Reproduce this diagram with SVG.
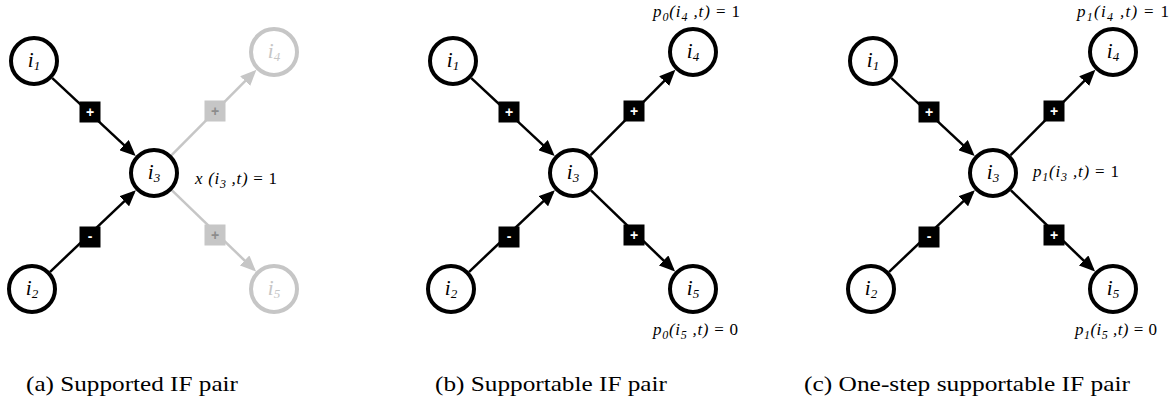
<svg xmlns="http://www.w3.org/2000/svg" width="1173" height="408" viewBox="0 0 1173 408">
<style>
.n{fill:#fff;stroke:#000;stroke-width:4}
.ng{fill:#fff;stroke:#c6c6c6;stroke-width:4}
.l{font-family:"Liberation Serif",serif;font-style:italic;font-size:21px;fill:#000;text-anchor:middle}
.lg{fill:#c6c6c6}
.sb{font-size:13px}
.e{stroke:#000;stroke-width:2.5;fill:none}
.eg{stroke:#c6c6c6;stroke-width:2.5;fill:none}
.bx{fill:#000}
.bxg{fill:#c6c6c6}
.bt{font-family:"Liberation Sans",sans-serif;font-weight:bold;font-size:14px;fill:#fff;text-anchor:middle}
.btg{fill:#8c8c8c}
.eq{font-family:"Liberation Serif",serif;font-size:17px;fill:#000}
.it{font-style:italic}
.es{font-size:12px;font-style:italic}
.cap{font-family:"Liberation Serif",serif;font-size:21px;fill:#000}
</style>
<defs>
<marker id="ah" viewBox="0 0 16 14" refX="13" refY="7" markerWidth="16" markerHeight="14" markerUnits="userSpaceOnUse" orient="auto"><path d="M0,0 L16,7 L0,14 z" fill="#000"/></marker>
<marker id="ahg" viewBox="0 0 16 14" refX="13" refY="7" markerWidth="16" markerHeight="14" markerUnits="userSpaceOnUse" orient="auto"><path d="M0,0 L16,7 L0,14 z" fill="#c6c6c6"/></marker>
</defs>
<rect width="1173" height="408" fill="#fff"/>

<!-- Panel a -->
<g id="panel-a">
<g id="a-connectors">
<line class="e" x1="52.3" y1="78.1" x2="133.5" y2="153.9" marker-end="url(#ah)"/>
<line class="e" x1="50.1" y1="271.8" x2="133.7" y2="192.3" marker-end="url(#ah)"/>
<line class="eg" x1="171.6" y1="155.2" x2="254.3" y2="71.9" marker-end="url(#ahg)"/>
<line class="eg" x1="172" y1="190.4" x2="253.9" y2="269.5" marker-end="url(#ahg)"/>
<rect class="bx" x="79.5" y="101.5" width="21" height="21"/><text class="bt" x="90" y="117">+</text>
<rect class="bx" x="79.5" y="226.5" width="21" height="21"/><text class="bt" x="90" y="241">-</text>
<rect class="bxg" x="204.5" y="100.5" width="21" height="21"/><text class="bt btg" x="215" y="116">+</text>
<rect class="bxg" x="204.5" y="224.5" width="21" height="21"/><text class="bt btg" x="215" y="240">+</text>
</g>
<g id="a-i1"><circle class="n" cx="34" cy="61" r="23"/><text class="l" x="34" y="67">i<tspan class="sb" dy="3">1</tspan></text></g>
<g id="a-i2"><circle class="n" cx="32" cy="289" r="23"/><text class="l" x="32" y="295">i<tspan class="sb" dy="3">2</tspan></text></g>
<g id="a-i3"><circle class="n" cx="154" cy="173" r="23"/><text class="l" x="154" y="179">i<tspan class="sb" dy="3">3</tspan></text></g>
<g id="a-i4"><circle class="ng" cx="274" cy="52" r="23"/><text class="l lg" x="274" y="58">i<tspan class="sb" dy="3">4</tspan></text></g>
<g id="a-i5"><circle class="ng" cx="274" cy="289" r="23"/><text class="l lg" x="274" y="295">i<tspan class="sb" dy="3">5</tspan></text></g>
<text class="eq" x="195" y="184" textLength="82" lengthAdjust="spacing"><tspan class="it">x (i</tspan><tspan class="es" dy="4">3</tspan><tspan class="it" dy="-4"> ,t)</tspan> = 1</text>
<text class="cap" x="26" y="391" textLength="212" lengthAdjust="spacingAndGlyphs">(a) Supported IF pair</text>
</g>

<!-- Panel b -->
<g id="panel-b" transform="translate(419,0)">
<g id="b-connectors">
<line class="e" x1="52.3" y1="78.1" x2="133.5" y2="153.9" marker-end="url(#ah)"/>
<line class="e" x1="50.1" y1="271.8" x2="133.7" y2="192.3" marker-end="url(#ah)"/>
<line class="e" x1="171.6" y1="155.2" x2="254.3" y2="71.9" marker-end="url(#ah)"/>
<line class="e" x1="172" y1="190.4" x2="253.9" y2="269.5" marker-end="url(#ah)"/>
<rect class="bx" x="79.5" y="101.5" width="21" height="21"/><text class="bt" x="90" y="117">+</text>
<rect class="bx" x="79.5" y="226.5" width="21" height="21"/><text class="bt" x="90" y="241">-</text>
<rect class="bx" x="204.5" y="100.5" width="21" height="21"/><text class="bt" x="215" y="116">+</text>
<rect class="bx" x="204.5" y="224.5" width="21" height="21"/><text class="bt" x="215" y="240">+</text>
</g>
<g id="b-i1"><circle class="n" cx="34" cy="61" r="23"/><text class="l" x="34" y="67">i<tspan class="sb" dy="3">1</tspan></text></g>
<g id="b-i2"><circle class="n" cx="32" cy="289" r="23"/><text class="l" x="32" y="295">i<tspan class="sb" dy="3">2</tspan></text></g>
<g id="b-i3"><circle class="n" cx="154" cy="173" r="23"/><text class="l" x="154" y="179">i<tspan class="sb" dy="3">3</tspan></text></g>
<g id="b-i4"><circle class="n" cx="274" cy="52" r="23"/><text class="l" x="274" y="58">i<tspan class="sb" dy="3">4</tspan></text></g>
<g id="b-i5"><circle class="n" cx="274" cy="289" r="23"/><text class="l" x="274" y="295">i<tspan class="sb" dy="3">5</tspan></text></g>
<text class="eq" x="234" y="17" textLength="87" lengthAdjust="spacing"><tspan class="it">p</tspan><tspan class="es" dy="4">0</tspan><tspan class="it" dy="-4">(i</tspan><tspan class="es" dy="4">4</tspan><tspan class="it" dy="-4"> ,t)</tspan> = 1</text>
<text class="eq" x="234" y="335" textLength="85" lengthAdjust="spacing"><tspan class="it">p</tspan><tspan class="es" dy="4">0</tspan><tspan class="it" dy="-4">(i</tspan><tspan class="es" dy="4">5</tspan><tspan class="it" dy="-4"> ,t)</tspan> = 0</text>
<text class="cap" x="16" y="391" textLength="232" lengthAdjust="spacingAndGlyphs">(b) Supportable IF pair</text>
</g>

<!-- Panel c -->
<g id="panel-c" transform="translate(839,0)">
<g id="c-connectors">
<line class="e" x1="52.3" y1="78.1" x2="133.5" y2="153.9" marker-end="url(#ah)"/>
<line class="e" x1="50.1" y1="271.8" x2="133.7" y2="192.3" marker-end="url(#ah)"/>
<line class="e" x1="171.6" y1="155.2" x2="254.3" y2="71.9" marker-end="url(#ah)"/>
<line class="e" x1="172" y1="190.4" x2="253.9" y2="269.5" marker-end="url(#ah)"/>
<rect class="bx" x="79.5" y="101.5" width="21" height="21"/><text class="bt" x="90" y="117">+</text>
<rect class="bx" x="79.5" y="226.5" width="21" height="21"/><text class="bt" x="90" y="241">-</text>
<rect class="bx" x="204.5" y="100.5" width="21" height="21"/><text class="bt" x="215" y="116">+</text>
<rect class="bx" x="204.5" y="224.5" width="21" height="21"/><text class="bt" x="215" y="240">+</text>
</g>
<g id="c-i1"><circle class="n" cx="34" cy="61" r="23"/><text class="l" x="34" y="67">i<tspan class="sb" dy="3">1</tspan></text></g>
<g id="c-i2"><circle class="n" cx="32" cy="289" r="23"/><text class="l" x="32" y="295">i<tspan class="sb" dy="3">2</tspan></text></g>
<g id="c-i3"><circle class="n" cx="154" cy="173" r="23"/><text class="l" x="154" y="179">i<tspan class="sb" dy="3">3</tspan></text></g>
<g id="c-i4"><circle class="n" cx="274" cy="52" r="23"/><text class="l" x="274" y="58">i<tspan class="sb" dy="3">4</tspan></text></g>
<g id="c-i5"><circle class="n" cx="274" cy="289" r="23"/><text class="l" x="274" y="295">i<tspan class="sb" dy="3">5</tspan></text></g>
<text class="eq" x="194" y="177" textLength="86" lengthAdjust="spacing"><tspan class="it">p</tspan><tspan class="es" dy="4">1</tspan><tspan class="it" dy="-4">(i</tspan><tspan class="es" dy="4">3</tspan><tspan class="it" dy="-4"> ,t)</tspan> = 1</text>
<text class="eq" x="238" y="17" textLength="92" lengthAdjust="spacing"><tspan class="it">p</tspan><tspan class="es" dy="4">1</tspan><tspan class="it" dy="-4">(i</tspan><tspan class="es" dy="4">4</tspan><tspan class="it" dy="-4"> ,t)</tspan> = 1</text>
<text class="eq" x="236" y="335" textLength="82" lengthAdjust="spacing"><tspan class="it">p</tspan><tspan class="es" dy="4">1</tspan><tspan class="it" dy="-4">(i</tspan><tspan class="es" dy="4">5</tspan><tspan class="it" dy="-4"> ,t)</tspan> = 0</text>
<text class="cap" x="-35" y="391" textLength="326" lengthAdjust="spacingAndGlyphs">(c) One-step supportable IF pair</text>
</g>
</svg>
